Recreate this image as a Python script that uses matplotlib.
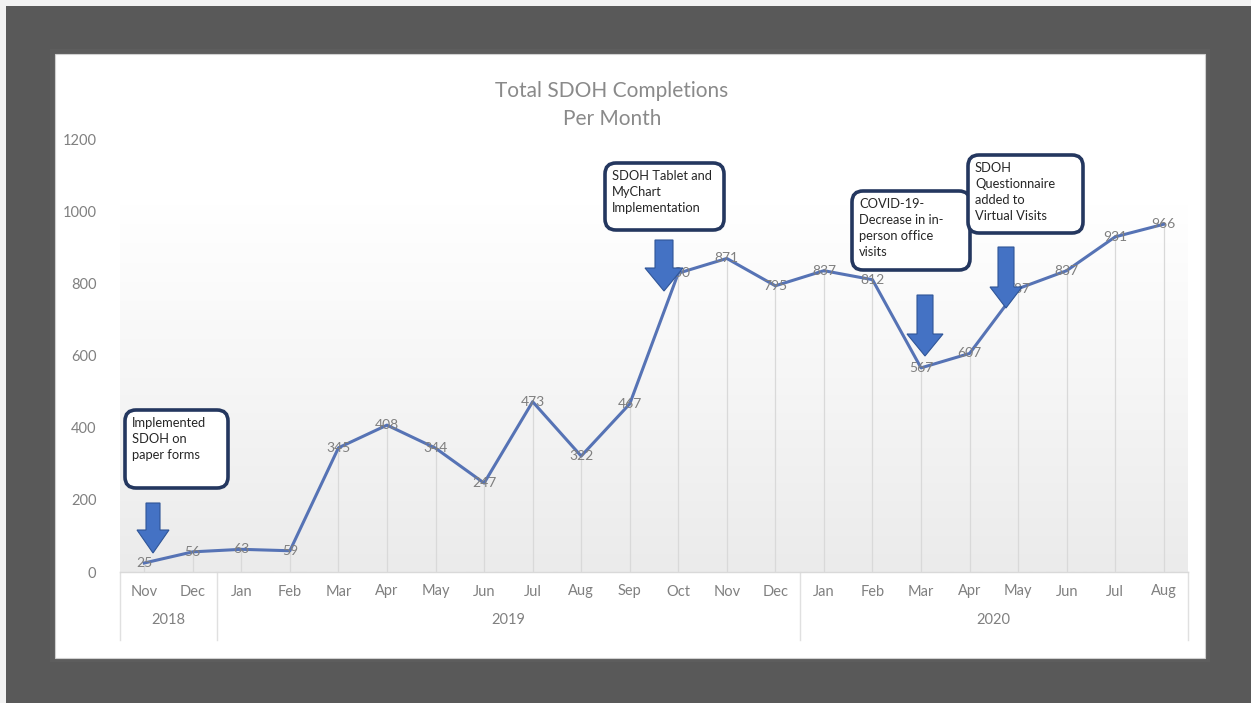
import numpy as np
import matplotlib
matplotlib.use("Agg")
import matplotlib.pyplot as plt
from matplotlib.patches import Rectangle, FancyBboxPatch, Polygon
from matplotlib.transforms import blended_transform_factory

# ---- data ----
months = ["Nov", "Dec",
          "Jan", "Feb", "Mar", "Apr", "May", "Jun", "Jul", "Aug", "Sep", "Oct", "Nov", "Dec",
          "Jan", "Feb", "Mar", "Apr", "May", "Jun", "Jul", "Aug"]
years = ["2018", "2019", "2020"]
months_per_year = [2, 12, 8]
completions = [25, 56,
               63, 59, 345, 408, 344, 247, 473, 322, 467, 830, 871, 795,
               837, 812, 567, 607, 787, 837, 931, 966]
y_ticks = [0, 200, 400, 600, 800, 1000, 1200]

title = "Total SDOH Completions\nPer Month"
notes = ["Implemented\nSDOH on\npaper forms",
         "SDOH Tablet and\nMyChart\nImplementation",
         "COVID-19-\nDecrease in in-\nperson office\nvisits",
         "SDOH\nQuestionnaire\nadded to\nVirtual Visits"]

W, H = 1251, 703
plt.rcParams["font.family"] = ["Lato", "DejaVu Sans"]

fig = plt.figure(figsize=(W / 100, H / 100), dpi=100)
fig.patch.set_facecolor("#595959")

def fx(px):
    return px / W

def fy(py):
    return 1 - py / H

# outer light edges and the white chart card
fig.add_artist(Rectangle((0, fy(6)), 1, 6 / H, transform=fig.transFigure,
                         facecolor="#f2f2f2", edgecolor="none", zorder=-2))
fig.add_artist(Rectangle((0, 0), 6 / W, 1, transform=fig.transFigure,
                         facecolor="#f2f2f2", edgecolor="none", zorder=-2))
fig.add_artist(Rectangle((fx(50), fy(662)), fx(1210 - 50), (662 - 49) / H,
                         transform=fig.transFigure, facecolor="#5d5d5d",
                         edgecolor="none", zorder=-2))
fig.add_artist(Rectangle((fx(55), fy(658)), fx(1205 - 55), (658 - 54) / H,
                         transform=fig.transFigure, facecolor="white",
                         edgecolor="#d0d0d0", lw=0.8, zorder=-1))

# ---- main plot area ----
left_px, right_px, top_px, bottom_px = 120, 1188, 140, 572
ax = fig.add_axes([fx(left_px), fy(bottom_px), fx(right_px - left_px),
                   (bottom_px - top_px) / H])
ax.set_facecolor("none")
n = len(months)
x = np.arange(n)
ax.set_xlim(-0.5, n - 0.5)
ax.set_ylim(0, 1200)

# soft vertical gradient behind the plot
grad = np.linspace(0.0, 1.0, 256).reshape(-1, 1)
cmap = matplotlib.colors.LinearSegmentedColormap.from_list(
    "bg", [(0.0, "#ebebeb"), (0.45, "#f6f6f6"), (0.85, "#ffffff"), (1.0, "#ffffff")])
ax.imshow(grad, aspect="auto", cmap=cmap, origin="lower",
          extent=(-0.52, n - 0.48, 0, 1200), zorder=0)

# drop lines from each point to the axis
ax.vlines(x, 0, completions, color="#d9d9d9", lw=0.9, zorder=1)

ax.plot(x, completions, color="#5673b5", lw=2.2, zorder=3,
        solid_joinstyle="round")

for xi, v in zip(x, completions):
    ax.text(xi, v, str(v), ha="center", va="center", fontsize=10,
            color="#7f7f7f", zorder=4)

for s in ["top", "right", "left"]:
    ax.spines[s].set_visible(False)
ax.spines["bottom"].set_color("#d9d9d9")
ax.spines["bottom"].set_linewidth(1.0)

ax.set_yticks(y_ticks)
ax.set_yticklabels([str(t) for t in y_ticks])
ax.set_xticks(x)
ax.set_xticklabels(months)
ax.tick_params(axis="both", length=0, labelsize=10.5, labelcolor="#808080")
ax.tick_params(axis="y", pad=17)
ax.tick_params(axis="x", pad=9)

# year grouping row under month labels
trans = blended_transform_factory(ax.transData, ax.transAxes)
y_sep = -(640 - bottom_px) / (bottom_px - top_px)
y_year = -(620 - bottom_px) / (bottom_px - top_px)
start = 0
bounds = [-0.5]
for yr, cnt in zip(years, months_per_year):
    center = start + (cnt - 1) / 2
    ax.text(center, y_year, yr, transform=trans, ha="center", va="center",
            fontsize=10.5, color="#808080")
    start += cnt
    bounds.append(start - 0.5)
for b in bounds:
    ax.plot([b, b], [0, y_sep], transform=trans, color="#e0e0e0", lw=1.0,
            clip_on=False, zorder=1)

# ---- title, callouts and arrows (pixel overlay) ----
ov = fig.add_axes([0, 0, 1, 1], zorder=5)
ov.set_xlim(0, W)
ov.set_ylim(H, 0)
ov.axis("off")
ov.patch.set_alpha(0)

ov.text(612, 105, title, ha="center", va="center", fontsize=15,
        color="#8a8a8a", linespacing=1.45)

boxes = [(125, 410, 103, 78), (605, 163, 119, 67),
         (852, 191, 118, 79), (968, 155, 115, 78)]
for (bx, by, bw, bh), txt in zip(boxes, notes):
    ov.add_patch(FancyBboxPatch((bx, by), bw, bh,
                                boxstyle="round,pad=0,rounding_size=11",
                                facecolor="white", edgecolor="#24375f",
                                lw=2.6, zorder=6))
    ov.text(bx + 7, by + 7, txt, ha="left", va="top", fontsize=9.3,
            color="#262626", linespacing=1.4, zorder=7)

# down arrows: centre x, shaft half width, head half width, top, head start, tip
arrows = [(153, 7, 16, 503, 530, 553),
          (664, 9, 19, 240, 268, 291),
          (925, 8, 18, 295, 334, 356),
          (1006, 8, 16, 247, 287, 308)]
for cx, sw, hw, y0, y1, y2 in arrows:
    pts = [(cx - sw, y0), (cx + sw, y0), (cx + sw, y1), (cx + hw, y1),
           (cx, y2), (cx - hw, y1), (cx - sw, y1)]
    ov.add_patch(Polygon(pts, closed=True, facecolor="#4472c4",
                         edgecolor="#2f5597", lw=0.8, zorder=6))

fig.savefig("out.png", dpi=100, facecolor=fig.get_facecolor())
